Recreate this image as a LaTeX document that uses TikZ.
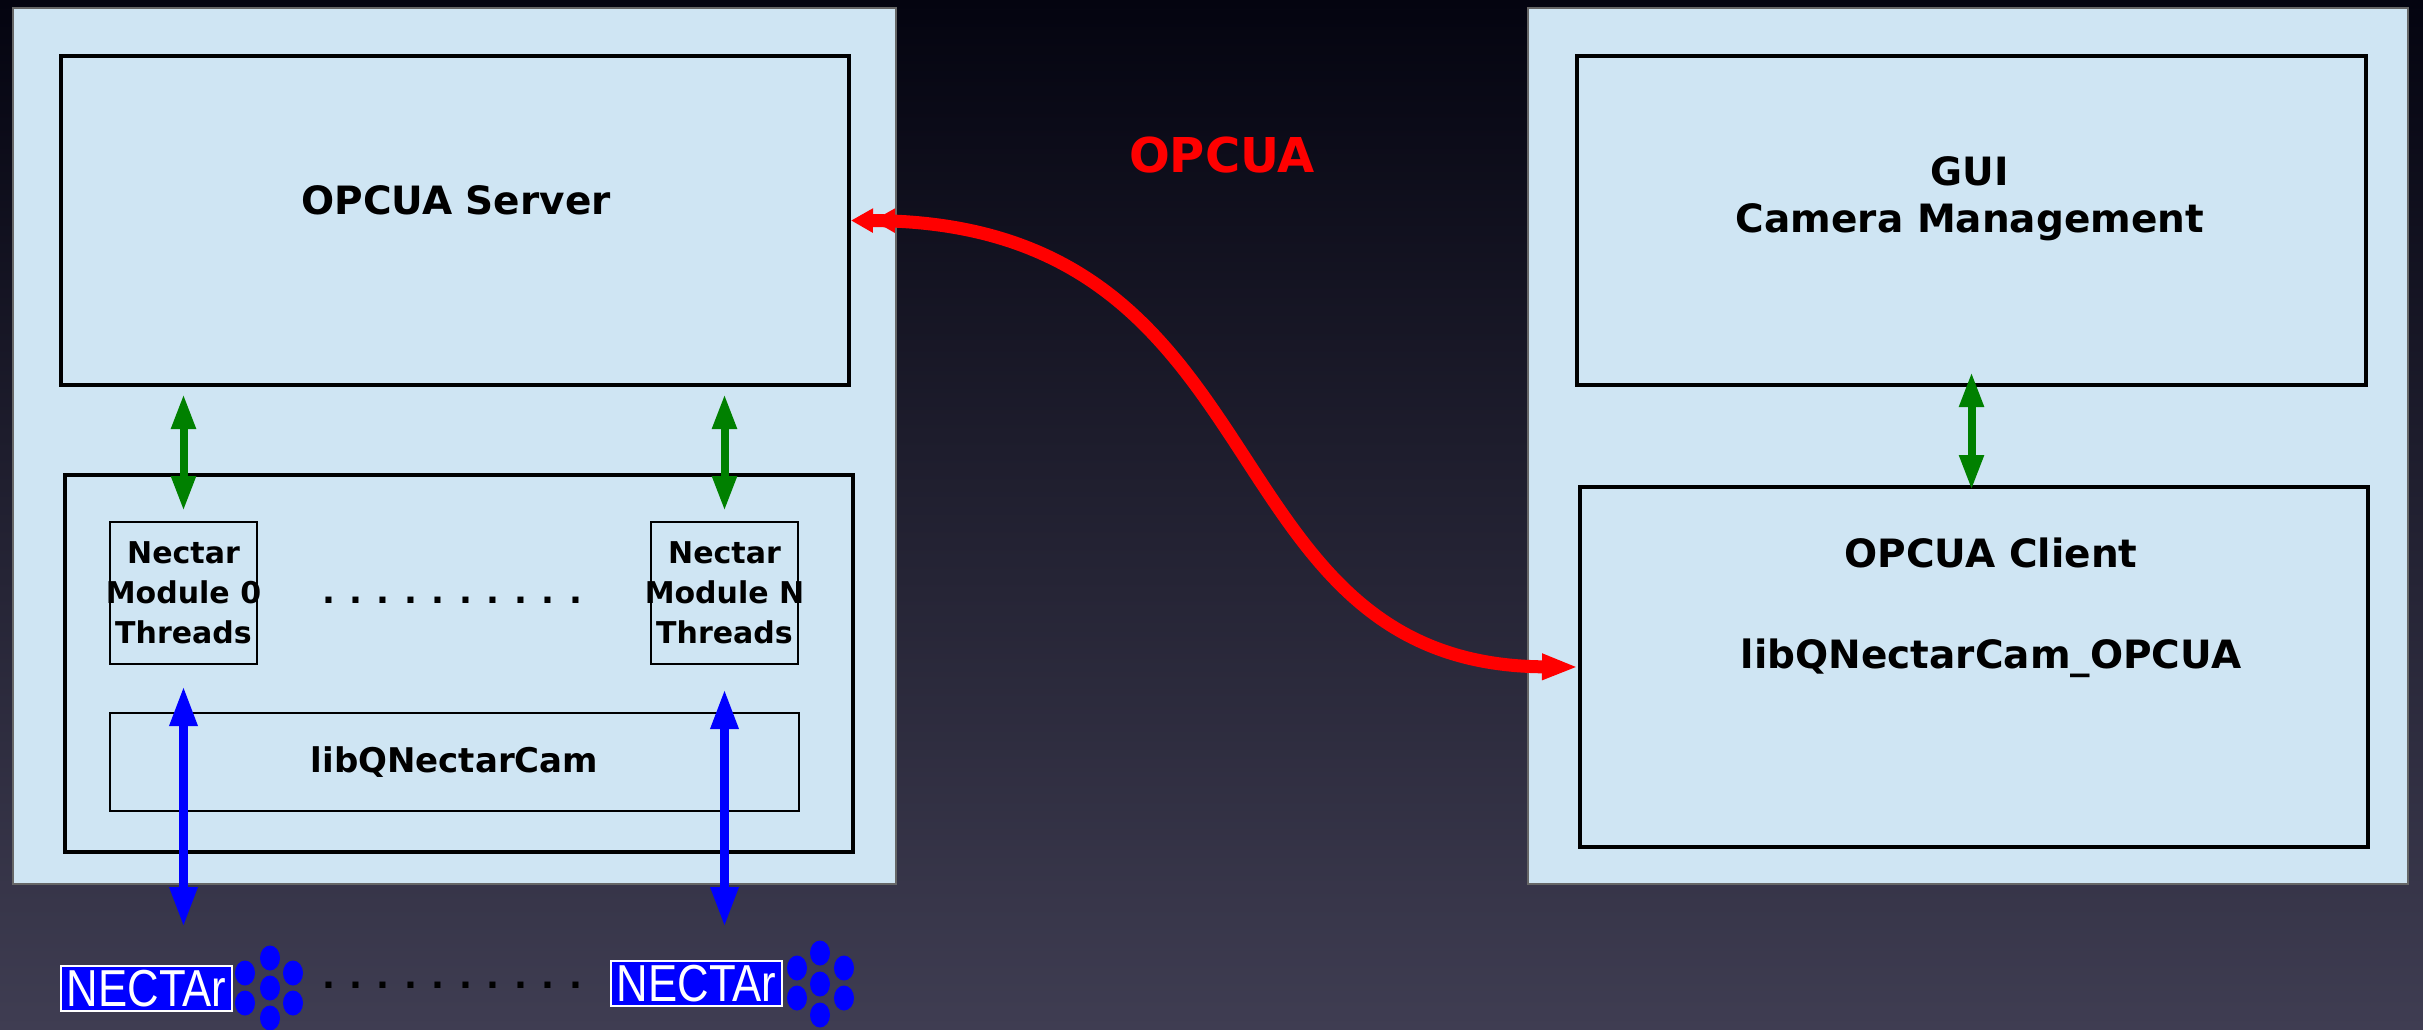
\documentclass[tikz,border=0pt]{standalone}
\usepackage{fontspec}
\setmainfont{DejaVu Sans}
\newfontfamily\logofont{Liberation Sans}[FakeStretch=0.84]
\usetikzlibrary{arrows.meta}
\definecolor{bgtop}{RGB}{4,4,16}
\definecolor{bgbot}{RGB}{63,61,82}
\definecolor{panel}{RGB}{207,229,243}
\definecolor{arrowgreen}{RGB}{0,128,0}
\tikzset{
  panelbox/.style={draw=black!60, line width=0.6pt, fill=panel, inner sep=0pt},
  innerbox/.style={draw=black, line width=2pt, fill=panel, inner sep=0pt},
  modbox/.style={draw=black, line width=1pt, fill=panel, inner sep=0pt, align=center,
    minimum width=73.5pt, minimum height=71pt, font=\bfseries\fontsize{15}{20}\selectfont},
  bigtext/.style={font=\bfseries\fontsize{19.5}{23.5}\selectfont, align=center, inner sep=0pt},
  dotrow/.style={font=\bfseries\fontsize{17}{17}\selectfont, inner sep=0pt},
  greenarrow/.style={draw=arrowgreen, line width=4pt,
    {Triangle[length=17.5pt,width=11.5pt]}-{Triangle[length=17.5pt,width=11.5pt]}},
  bluearrow/.style={draw=blue, line width=4.5pt,
    {Triangle[length=20pt,width=13pt]}-{Triangle[length=20pt,width=13pt]}},
  redarrow/.style={draw=red, line width=6.5pt,
    {Triangle[length=11pt,width=11.5pt] Triangle[length=11pt,width=11.5pt]}-{Triangle[length=18pt,width=12pt]}},
  logobox/.style={fill=blue, draw=white, line width=1pt, inner sep=0pt, text=white,
    minimum width=85.5pt, minimum height=22.5pt, font=\logofont\fontsize{26}{26}\selectfont},
  bubble/.style={fill=blue},
}
\begin{document}
\begin{tikzpicture}[x=0.5pt,y=-0.5pt]
\useasboundingbox (0,0) rectangle (2423,1029);
\shade[top color=bgtop, bottom color=bgbot] (0,0) rectangle (2423,1029);

% panels
\node[panelbox, minimum width=441.5pt, minimum height=438pt] (leftpanel) at (454.5,446) {};
\node[panelbox, minimum width=440pt, minimum height=438pt] (rightpanel) at (1968,446) {};

% left side boxes
\node[innerbox, minimum width=394pt, minimum height=164.5pt] (server) at (455,220.5) {};
\node[bigtext] (serverlbl) at (456,200) {OPCUA Server};
\node[innerbox, minimum width=394pt, minimum height=188.5pt] (lower) at (459,663.5) {};
\node[modbox] (m0) at (183.5,593) {\makebox[0pt]{Nectar}\\\makebox[0pt]{Module 0}\\\makebox[0pt]{Threads}};
\node[modbox] (mN) at (724.5,593) {\makebox[0pt]{Nectar}\\\makebox[0pt]{Module N}\\\makebox[0pt]{Threads}};
\node[draw=black, line width=1pt, fill=panel, inner sep=0pt,
      minimum width=344.5pt, minimum height=49pt,
      font=\bfseries\fontsize{17}{20}\selectfont] (libq) at (454.5,762) {libQNectarCam};
\node[dotrow] (dotsA) at (452,600) {\hbox to 130pt{.\hfill.\hfill.\hfill.\hfill.\hfill.\hfill.\hfill.\hfill.\hfill.}};

% right side boxes
\node[innerbox, minimum width=394.5pt, minimum height=164.5pt] (gui) at (1971.5,220.5) {};
\node[bigtext] (guilbl) at (1970,199) {GUI\\Camera Management};
\node[innerbox, minimum width=394pt, minimum height=180pt] (client) at (1974,667) {};
\node[bigtext] (clientlbl) at (1991,553) {OPCUA Client};
\node[bigtext] (clientlib) at (1991,658) {libQNectarCam\_OPCUA};

% OPCUA label
\node[font=\bfseries\fontsize{24}{24}\selectfont, text=red, inner sep=0pt] (opcua) at (1222,155) {OPCUA};

% NECTAr logos
\node[logobox] (logo0) at (146.5,988.5) {NECTAr};
\node[logobox] (logoN) at (696.5,983.5) {NECTAr};
\foreach \dx/\dy in {0/0,0/-30,0/30,-25/-15,-25/15,23/-15,23/15}{
  \fill[bubble] (270+\dx,988+\dy) ellipse [x radius=5pt, y radius=6.25pt];
}
\foreach \dx/\dy in {0/0,0/-31,0/31,-23/-16,-23/14,24/-16,24/14}{
  \fill[bubble] (820+\dx,984+\dy) ellipse [x radius=5pt, y radius=6.25pt];
}
\node[dotrow] (dotsB) at (452,985) {\hbox to 130pt{.\hfill.\hfill.\hfill.\hfill.\hfill.\hfill.\hfill.\hfill.\hfill.}};

% green arrows
\draw[greenarrow, shorten <=3.5pt, shorten >=5pt] (server.south -| m0.north) -- (m0.north);
\draw[greenarrow, shorten <=3.5pt, shorten >=5pt] (server.south -| mN.north) -- (mN.north);
\draw[greenarrow, shorten <=-7.5pt, shorten >=-2.5pt] (gui.south) -- (gui.south |- client.north);

% blue arrows
\draw[bluearrow, shorten <=10.5pt, shorten >=19pt] (m0.south) -- (m0.south |- logo0.north);
\draw[bluearrow, shorten <=12pt, shorten >=16.5pt] (mN.south) -- (mN.south |- logoN.north);

% red OPCUA link
\draw[redarrow] (server.east) .. controls (1290,222) and (1200,665) .. (client.west);
\end{tikzpicture}
\end{document}
